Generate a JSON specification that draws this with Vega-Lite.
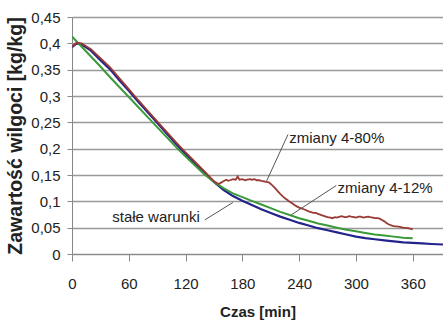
{
  "$schema": "https://vega.github.io/schema/vega-lite/v6.json",
  "width": 371,
  "height": 237,
  "autosize": {"type": "none"},
  "padding": {"left": 72, "top": 17, "right": 0, "bottom": 74},
  "background": "white",
  "config": {"view": {"stroke": null}, "font": "Liberation Sans"},
  "datasets": {
    "curves": [
      {"t":0,"v":0.393,"s":"blue"},{"t":5,"v":0.400,"s":"blue"},{"t":10,"v":0.398,"s":"blue"},{"t":20,"v":0.386,"s":"blue"},{"t":30,"v":0.368,"s":"blue"},{"t":40,"v":0.351,"s":"blue"},{"t":50,"v":0.330,"s":"blue"},{"t":60,"v":0.310,"s":"blue"},{"t":70,"v":0.289,"s":"blue"},{"t":80,"v":0.269,"s":"blue"},{"t":90,"v":0.249,"s":"blue"},{"t":100,"v":0.229,"s":"blue"},{"t":110,"v":0.209,"s":"blue"},{"t":120,"v":0.190,"s":"blue"},{"t":130,"v":0.172,"s":"blue"},{"t":140,"v":0.154,"s":"blue"},{"t":150,"v":0.137,"s":"blue"},{"t":160,"v":0.122,"s":"blue"},{"t":170,"v":0.110,"s":"blue"},{"t":180,"v":0.101,"s":"blue"},{"t":190,"v":0.093,"s":"blue"},{"t":200,"v":0.085,"s":"blue"},{"t":210,"v":0.078,"s":"blue"},{"t":220,"v":0.071,"s":"blue"},{"t":230,"v":0.065,"s":"blue"},{"t":240,"v":0.059,"s":"blue"},{"t":250,"v":0.054,"s":"blue"},{"t":260,"v":0.049,"s":"blue"},{"t":270,"v":0.045,"s":"blue"},{"t":280,"v":0.041,"s":"blue"},{"t":290,"v":0.037,"s":"blue"},{"t":300,"v":0.033,"s":"blue"},{"t":310,"v":0.030,"s":"blue"},{"t":320,"v":0.028,"s":"blue"},{"t":330,"v":0.026,"s":"blue"},{"t":340,"v":0.024,"s":"blue"},{"t":350,"v":0.022,"s":"blue"},{"t":360,"v":0.021,"s":"blue"},{"t":370,"v":0.020,"s":"blue"},{"t":380,"v":0.019,"s":"blue"},{"t":392,"v":0.018,"s":"blue"},
      {"t":0,"v":0.413,"s":"green"},{"t":10,"v":0.394,"s":"green"},{"t":20,"v":0.375,"s":"green"},{"t":30,"v":0.356,"s":"green"},{"t":40,"v":0.336,"s":"green"},{"t":50,"v":0.317,"s":"green"},{"t":60,"v":0.298,"s":"green"},{"t":70,"v":0.279,"s":"green"},{"t":80,"v":0.260,"s":"green"},{"t":90,"v":0.241,"s":"green"},{"t":100,"v":0.222,"s":"green"},{"t":110,"v":0.203,"s":"green"},{"t":120,"v":0.185,"s":"green"},{"t":130,"v":0.168,"s":"green"},{"t":140,"v":0.151,"s":"green"},{"t":150,"v":0.137,"s":"green"},{"t":160,"v":0.125,"s":"green"},{"t":170,"v":0.115,"s":"green"},{"t":180,"v":0.108,"s":"green"},{"t":190,"v":0.101,"s":"green"},{"t":200,"v":0.094,"s":"green"},{"t":210,"v":0.087,"s":"green"},{"t":220,"v":0.080,"s":"green"},{"t":230,"v":0.074,"s":"green"},{"t":240,"v":0.068,"s":"green"},{"t":250,"v":0.063,"s":"green"},{"t":260,"v":0.058,"s":"green"},{"t":270,"v":0.054,"s":"green"},{"t":280,"v":0.050,"s":"green"},{"t":290,"v":0.046,"s":"green"},{"t":300,"v":0.043,"s":"green"},{"t":310,"v":0.040,"s":"green"},{"t":320,"v":0.037,"s":"green"},{"t":330,"v":0.035,"s":"green"},{"t":340,"v":0.033,"s":"green"},{"t":350,"v":0.031,"s":"green"},{"t":360,"v":0.030,"s":"green"},
      {"t":0,"v":0.394,"s":"red"},{"t":5,"v":0.401,"s":"red"},{"t":10,"v":0.400,"s":"red"},{"t":20,"v":0.389,"s":"red"},{"t":30,"v":0.372,"s":"red"},{"t":40,"v":0.355,"s":"red"},{"t":50,"v":0.334,"s":"red"},{"t":60,"v":0.313,"s":"red"},{"t":70,"v":0.292,"s":"red"},{"t":80,"v":0.272,"s":"red"},{"t":90,"v":0.252,"s":"red"},{"t":100,"v":0.232,"s":"red"},{"t":110,"v":0.212,"s":"red"},{"t":120,"v":0.193,"s":"red"},{"t":130,"v":0.175,"s":"red"},{"t":140,"v":0.157,"s":"red"},{"t":150,"v":0.138,"s":"red"},{"t":155,"v":0.133,"s":"red"},{"t":158,"v":0.136,"s":"red"},{"t":160,"v":0.138,"s":"red"},{"t":163,"v":0.141,"s":"red"},{"t":165,"v":0.139,"s":"red"},{"t":167,"v":0.140,"s":"red"},{"t":170,"v":0.142,"s":"red"},{"t":173,"v":0.141,"s":"red"},{"t":175,"v":0.147,"s":"red"},{"t":177,"v":0.141,"s":"red"},{"t":180,"v":0.142,"s":"red"},{"t":183,"v":0.140,"s":"red"},{"t":185,"v":0.141,"s":"red"},{"t":188,"v":0.142,"s":"red"},{"t":190,"v":0.141,"s":"red"},{"t":193,"v":0.142,"s":"red"},{"t":195,"v":0.140,"s":"red"},{"t":198,"v":0.140,"s":"red"},{"t":200,"v":0.139,"s":"red"},{"t":203,"v":0.138,"s":"red"},{"t":205,"v":0.137,"s":"red"},{"t":208,"v":0.136,"s":"red"},{"t":210,"v":0.133,"s":"red"},{"t":213,"v":0.128,"s":"red"},{"t":215,"v":0.124,"s":"red"},{"t":218,"v":0.118,"s":"red"},{"t":220,"v":0.114,"s":"red"},{"t":223,"v":0.109,"s":"red"},{"t":225,"v":0.106,"s":"red"},{"t":228,"v":0.102,"s":"red"},{"t":230,"v":0.099,"s":"red"},{"t":233,"v":0.096,"s":"red"},{"t":235,"v":0.093,"s":"red"},{"t":238,"v":0.090,"s":"red"},{"t":240,"v":0.088,"s":"red"},{"t":245,"v":0.085,"s":"red"},{"t":250,"v":0.081,"s":"red"},{"t":255,"v":0.078,"s":"red"},{"t":258,"v":0.078,"s":"red"},{"t":260,"v":0.076,"s":"red"},{"t":265,"v":0.073,"s":"red"},{"t":270,"v":0.070,"s":"red"},{"t":273,"v":0.069,"s":"red"},{"t":275,"v":0.068,"s":"red"},{"t":278,"v":0.070,"s":"red"},{"t":280,"v":0.069,"s":"red"},{"t":283,"v":0.071,"s":"red"},{"t":285,"v":0.072,"s":"red"},{"t":288,"v":0.070,"s":"red"},{"t":290,"v":0.070,"s":"red"},{"t":293,"v":0.072,"s":"red"},{"t":295,"v":0.071,"s":"red"},{"t":298,"v":0.070,"s":"red"},{"t":300,"v":0.069,"s":"red"},{"t":303,"v":0.071,"s":"red"},{"t":305,"v":0.071,"s":"red"},{"t":308,"v":0.069,"s":"red"},{"t":310,"v":0.070,"s":"red"},{"t":313,"v":0.071,"s":"red"},{"t":315,"v":0.070,"s":"red"},{"t":318,"v":0.069,"s":"red"},{"t":320,"v":0.068,"s":"red"},{"t":323,"v":0.068,"s":"red"},{"t":325,"v":0.067,"s":"red"},{"t":328,"v":0.064,"s":"red"},{"t":330,"v":0.062,"s":"red"},{"t":333,"v":0.058,"s":"red"},{"t":335,"v":0.056,"s":"red"},{"t":338,"v":0.054,"s":"red"},{"t":340,"v":0.053,"s":"red"},{"t":345,"v":0.052,"s":"red"},{"t":350,"v":0.050,"s":"red"},{"t":355,"v":0.049,"s":"red"},{"t":360,"v":0.047,"s":"red"}
    ],
    "labelsLeft": [
      {"t":229.5,"v":0.211,"label":"zmiany 4-80%"},
      {"t":280.6,"v":0.1157,"label":"zmiany 4-12%"}
    ],
    "labelsRight": [
      {"t":135,"v":0.0616,"label":"stałe warunki"}
    ],
    "leaders": [
      {"t":228.2,"v":0.2268,"t2":205.4,"v2":0.1378},
      {"t":279.2,"v":0.130,"t2":231.7,"v2":0.0743},
      {"t":140.3,"v":0.0648,"t2":170,"v2":0.0978}
    ]
  },
  "encoding": {
    "x": {"field": "t", "type": "quantitative",
      "scale": {"domain": [0, 392], "nice": false},
      "axis": {"values": [0,60,120,180,240,300,360], "title": "Czas [min]", "titleFontSize": 15, "titleFontWeight": "bold", "titleColor": "#222", "titlePadding": 13, "labelFontSize": 15, "labelColor": "#222", "labelPadding": 15, "tickSize": 7, "tickColor": "#888", "domainColor": "#888", "grid": false, "labelFlush": false, "labelOverlap": false}},
    "y": {"field": "v", "type": "quantitative",
      "scale": {"domain": [0, 0.45], "nice": false},
      "axis": {"values": [0,0.05,0.1,0.15,0.2,0.25,0.3,0.35,0.4,0.45], "labelExpr": "replace(format(datum.value, '.2~f'), '.', ',')", "title": "Zawartość wilgoci [kg/kg]", "titleFontSize": 19.5, "titleFontWeight": "bold", "titleColor": "#222", "titlePadding": 5, "labelFontSize": 15, "labelColor": "#222", "labelPadding": 7, "tickSize": 5, "tickColor": "#888", "domainColor": "#888", "grid": true, "gridColor": "#999", "gridWidth": 1.5, "labelOverlap": false, "labelFlush": false}}
  },
  "layer": [
    {
      "data": {"name": "curves"},
      "mark": {"type": "line", "clip": true},
      "encoding": {
        "color": {"field": "s", "type": "nominal", "legend": null,
          "scale": {"domain": ["blue","green","red"], "range": ["#23238c","#3a9a3a","#9a3a35"]}},
        "strokeWidth": {"field": "s", "type": "nominal", "legend": null,
          "scale": {"domain": ["blue","green","red"], "range": [2.2, 1.8, 1.3]}},
        "order": {"field": "t", "type": "quantitative"}
      }
    },
    {
      "data": {"name": "leaders"},
      "mark": {"type": "rule", "color": "#555", "strokeWidth": 1},
      "encoding": {
        "x2": {"field": "t2"},
        "y2": {"field": "v2"}
      }
    },
    {
      "data": {"name": "labelsLeft"},
      "mark": {"type": "text", "baseline": "alphabetic", "align": "left", "fontSize": 15, "color": "#222"},
      "encoding": {"text": {"field": "label"}}
    },
    {
      "data": {"name": "labelsRight"},
      "mark": {"type": "text", "baseline": "alphabetic", "align": "right", "fontSize": 15, "color": "#222"},
      "encoding": {"text": {"field": "label"}}
    }
  ]
}
